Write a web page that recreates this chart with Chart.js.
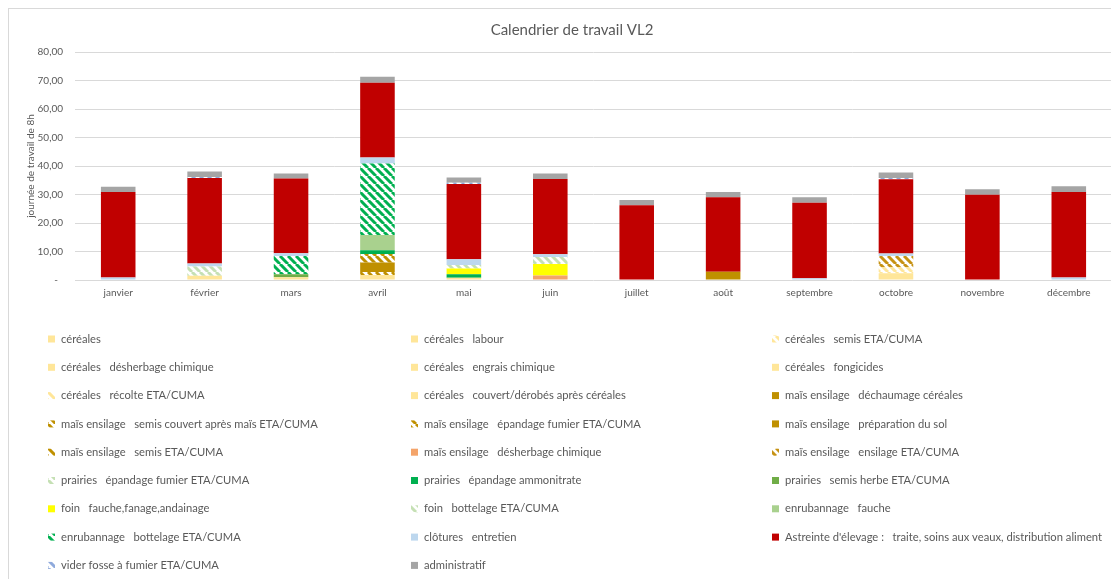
<!DOCTYPE html>
<html>
<head>
<meta charset="utf-8">
<script src="https://cdn.jsdelivr.net/npm/chart.js@4.4.0/dist/chart.umd.min.js"></script>
<style>
html,body{margin:0;padding:0;background:#fff;overflow:hidden;width:1111px;height:579px;}
#frame{position:absolute;left:8px;top:8px;width:1140px;height:640px;border:1px solid #d9d9d9;box-sizing:border-box;}
#c{position:absolute;left:0;top:0;}
</style>
</head>
<body>
<div id="frame"></div>
<canvas id="c" width="1140" height="579"></canvas>
<script>
// ---- categories ----
const months = ['janvier','février','mars','avril','mai','juin','juillet','août','septembre','octobre','novembre','décembre'];

// ---- series values (journées de travail de 8h), janvier..décembre ----
const cereales            = [0,0,0,0,0,0,0,0,0,0,0,0];
const cerealesLabour      = [0,0,0,0,0,0,0,0,0,2.35,0,0];
const cerealesSemis       = [0,0,0,0,0,0,0,0,0,2.1,0,0];
const cerealesDesherbage  = [0,0,0,1.75,0,0,0,0,0,0,0,0];
const cerealesEngrais     = [0,1.5,0.95,0,0,0,0,0,0,0,0,0];
const cerealesFongicides  = [0,0,0,0,0.8,0,0,0,0,0,0,0];
const cerealesRecolte     = [0,0,0,0,0,0,0,0,0,0,0,0];
const cerealesCouvert     = [0,0,0,0,0,0,0,0,0,0,0,0];
const maisDechaumage      = [0,0,0,0,0,0,0,2.9,0,0,0,0];
const maisSemisCouvert    = [0,0,0,0,0,0,0,0,0,0,0,0];
const maisEpandageFumier  = [0,0,0,1.05,0,0,0,0,0,0,0,0];
const maisPreparation     = [0,0,0,3.3,0,0,0,0,0,0,0,0];
const maisSemis           = [0,0,0,3.0,0,0,0,0,0,0,0,0];
const maisDesherbage      = [0,0,0,0,0,1.6,0,0,0,0,0,0];
const maisEnsilage        = [0,0,0,0,0,0,0,0,0,3.95,0,0];
const prairiesFumier      = [0,3.2,0,0,0,0,0,0,0,0,0,0];
const prairiesAmmonitrate = [0,0,0,1.3,1.2,0,0,0,0,0,0,0];
const prairiesSemisHerbe  = [0,0,1.05,0,0,0,0,0,0,0,0,0];
const foinFauche          = [0,0,0,0,2.0,4.0,0,0,0,0,0,0];
const foinBottelage       = [0,0,0,0,1.25,2.5,0,0,0,0,0,0];
const enrubFauche         = [0,0,0,5.4,0,0,0,0,0,0,0,0];
const enrubBottelage      = [0,0,6.4,25.1,0,0,0,0,0,0,0,0];
const clotures            = [0.9,1.1,0.95,2.1,2.0,0.9,0,0,0.6,0.9,0,0.9];
const astreinte           = [30.0,30.0,26.3,26.2,26.45,26.4,26.2,26.1,26.5,26.05,29.9,30.0];
const viderFosse          = [0,0.3,0,0,0.4,0,0,0,0,0.4,0,0];
const administratif       = [1.8,2.0,1.7,2.1,1.9,2.0,1.9,1.9,1.9,2.0,1.9,2.0];

// ---- y tick values ----
const yTicks = [0,10,20,30,40,50,60,70,80];
const chartTitle = 'Calendrier de travail VL2';

// ---- styles ----
function hatch(color){
  const c=document.createElement('canvas'); c.width=8; c.height=8;
  const g=c.getContext('2d');
  g.fillStyle='#ffffff'; g.fillRect(0,0,8,8);
  g.strokeStyle=color; g.lineWidth=3; g.beginPath();
  for(const o of [-8,0,8]){ g.moveTo(o,0); g.lineTo(o+8,8); }
  g.stroke();
  return g.createPattern(c,'repeat');
}
const Y='#FFE699', GOLD='#BF9000';
const series = [
  ['céréales', cereales, Y],
  ['céréales   labour', cerealesLabour, Y],
  ['céréales   semis ETA/CUMA', cerealesSemis, hatch(Y)],
  ['céréales   désherbage chimique', cerealesDesherbage, Y],
  ['céréales   engrais chimique', cerealesEngrais, Y],
  ['céréales   fongicides', cerealesFongicides, Y],
  ['céréales   récolte ETA/CUMA', cerealesRecolte, hatch(Y)],
  ['céréales   couvert/dérobés après céréales', cerealesCouvert, Y],
  ['maïs ensilage   déchaumage céréales', maisDechaumage, GOLD],
  ['maïs ensilage   semis couvert après maïs ETA/CUMA', maisSemisCouvert, hatch(GOLD)],
  ['maïs ensilage   épandage fumier ETA/CUMA', maisEpandageFumier, hatch(GOLD)],
  ['maïs ensilage   préparation du sol', maisPreparation, GOLD],
  ['maïs ensilage   semis ETA/CUMA', maisSemis, hatch(GOLD)],
  ['maïs ensilage   désherbage chimique', maisDesherbage, '#F4A46A'],
  ['maïs ensilage   ensilage ETA/CUMA', maisEnsilage, hatch('#C69214')],
  ['prairies   épandage fumier ETA/CUMA', prairiesFumier, hatch('#C5E0B4')],
  ['prairies   épandage ammonitrate', prairiesAmmonitrate, '#00B050'],
  ['prairies   semis herbe ETA/CUMA', prairiesSemisHerbe, '#70AD47'],
  ['foin   fauche,fanage,andainage', foinFauche, '#FFFF00'],
  ['foin   bottelage ETA/CUMA', foinBottelage, hatch('#C5E0B4')],
  ['enrubannage   fauche', enrubFauche, '#A9D18E'],
  ['enrubannage   bottelage ETA/CUMA', enrubBottelage, hatch('#00B050')],
  ['clôtures   entretien', clotures, '#BDD7EE'],
  ["Astreinte d'élevage :   traite, soins aux veaux, distribution aliment", astreinte, '#C00000'],
  ['vider fosse à fumier ETA/CUMA', viderFosse, hatch('#8FAADC')],
  ['administratif', administratif, '#A5A5A5']
];

const FONT = 'Lato, "Open Sans", sans-serif';
Chart.defaults.font.family = FONT;
Chart.defaults.color = '#595959';

const gridLegend = {
  id:'gridLegend',
  afterDraw(chart){
    const ctx=chart.ctx;
    const cols=[48,411,772];
    ctx.save();
    // title
    ctx.fillStyle='#595959';
    ctx.font='15px '+FONT;
    ctx.textAlign='center';
    ctx.textBaseline='middle';
    ctx.fillText(chartTitle,572,30);
    chart.data.datasets.forEach((ds,i)=>{
      const x=cols[i%3], y=339+Math.floor(i/3)*28.3;
      ctx.fillStyle=ds.backgroundColor;
      ctx.fillRect(x,y-3.5,7,7);
      ctx.fillStyle='#595959';
      ctx.font='11.2px '+FONT;
      ctx.textBaseline='middle';
      ctx.textAlign='left';
      ctx.fillText(ds.label,x+13,y);
    });
    ctx.restore();
  }
};

new Chart(document.getElementById('c'), {
  type:'bar',
  data:{
    labels: months,
    datasets: series.map(([label,data,color])=>({label,data,backgroundColor:color,borderWidth:0,barPercentage:0.4,categoryPercentage:1}))
  },
  options:{
    responsive:false,
    animation:false,
    layout:{padding:{left:0,right:28,top:52,bottom:274}},
    plugins:{
      legend:{display:false},
      tooltip:{enabled:false},
      title:{display:false}
    },
    scales:{
      x:{
        stacked:true,
        grid:{display:false,drawTicks:false},
        border:{display:false},
        ticks:{font:{size:10},color:'#595959',padding:7,maxRotation:0,autoSkip:false},
        afterFit(s){ s.height=25; }
      },
      y:{
        stacked:true,
        min:yTicks[0], max:yTicks[yTicks.length-1],
        afterBuildTicks(s){ s.ticks = yTicks.map(v=>({value:v})); },
        grid:{color:'#d9d9d9',drawTicks:false},
        border:{display:false},
        ticks:{font:{size:10},color:'#595959',padding:12,
          callback:(v)=> v===0 ? '-  ' : v.toFixed(2).replace('.',',')},
        title:{display:true,text:'journée de travail de 8h',font:{size:10},color:'#595959',padding:{top:25,bottom:0}},
        afterFit(s){ s.width=75; }
      }
    }
  },
  plugins:[gridLegend]
});
</script>
</body>
</html>
